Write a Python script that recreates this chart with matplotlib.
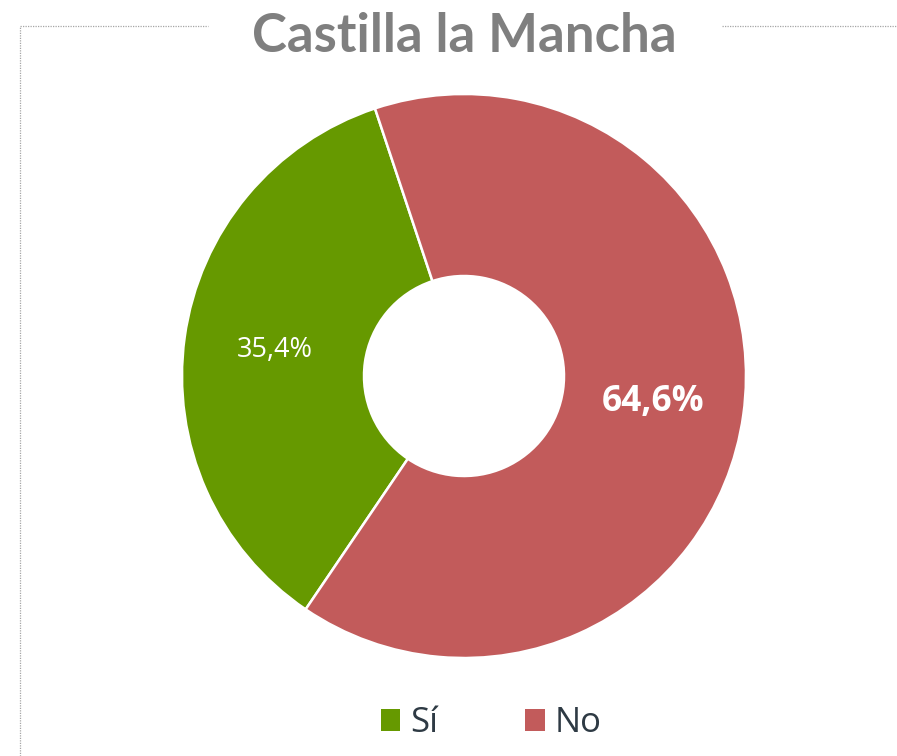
import matplotlib
matplotlib.use("Agg")
import matplotlib.pyplot as plt
from matplotlib.lines import Line2D

categories = ["Sí", "No"]
values = [35.4, 64.6]
colors = ["#669900", "#C25B5B"]
title = "Castilla la Mancha"

W, H = 897, 756
fig = plt.figure(figsize=(W / 100, H / 100), dpi=100)
fig.patch.set_facecolor("white")
ax = fig.add_axes([0, 0, 1, 1])
ax.set_xlim(0, W)
ax.set_ylim(0, H)
ax.set_aspect("equal")
ax.axis("off")

cx, cy, R, r_in = 464, H - 376, 282, 100
wedges, texts, autotexts = ax.pie(
    values, colors=colors, startangle=108.4, counterclock=True,
    center=(cx, cy), radius=R, frame=True,
    wedgeprops=dict(width=R - r_in, edgecolor="white", linewidth=1.8),
    autopct=lambda p: f"{p:.1f}%".replace(".", ","),
    pctdistance=(R + r_in) / 2 / R,
)
ax.set_xlim(0, W)
ax.set_ylim(0, H)
ax.axis("off")
autotexts[0].set_fontsize(19.5)
autotexts[0].set_color("white")
autotexts[0].set_family("Open Sans")
autotexts[1].set_fontsize(25.5)
autotexts[1].set_color("white")
autotexts[1].set_fontweight("bold")
autotexts[1].set_family("Open Sans")

# dotted border
bc = "#A6A6A6"
fig.add_artist(Line2D([20 / W, 20 / W], [0, 1 - 26 / H], transform=fig.transFigure,
                      color=bc, lw=0.9, ls=(0, (1, 1))))
fig.add_artist(Line2D([20 / W, 208 / W], [1 - 26 / H] * 2, transform=fig.transFigure,
                      color=bc, lw=0.9, ls=(0, (1, 1))))
fig.add_artist(Line2D([722 / W, 1], [1 - 26 / H] * 2, transform=fig.transFigure,
                      color=bc, lw=0.9, ls=(0, (1, 1))))

fig.text(464 / W, 1 - 52 / H, title, ha="center", va="baseline", fontsize=38,
         fontweight="bold", color="#7F7F7F", family="Lato")

leg = fig.legend(wedges, categories, loc="center", bbox_to_anchor=(491.5 / W, 1 - 723 / H),
                 ncol=2, frameon=False, handlelength=0.55, handleheight=0.61,
                 columnspacing=2.5, handletextpad=0.3, labelcolor="#2E3A44",
                 prop=dict(family="Open Sans", size=25))
for h in leg.legend_handles:
    h.set_edgecolor("none")
    h.set_linewidth(0)
fig.savefig("out.png", dpi=100, facecolor="white")
